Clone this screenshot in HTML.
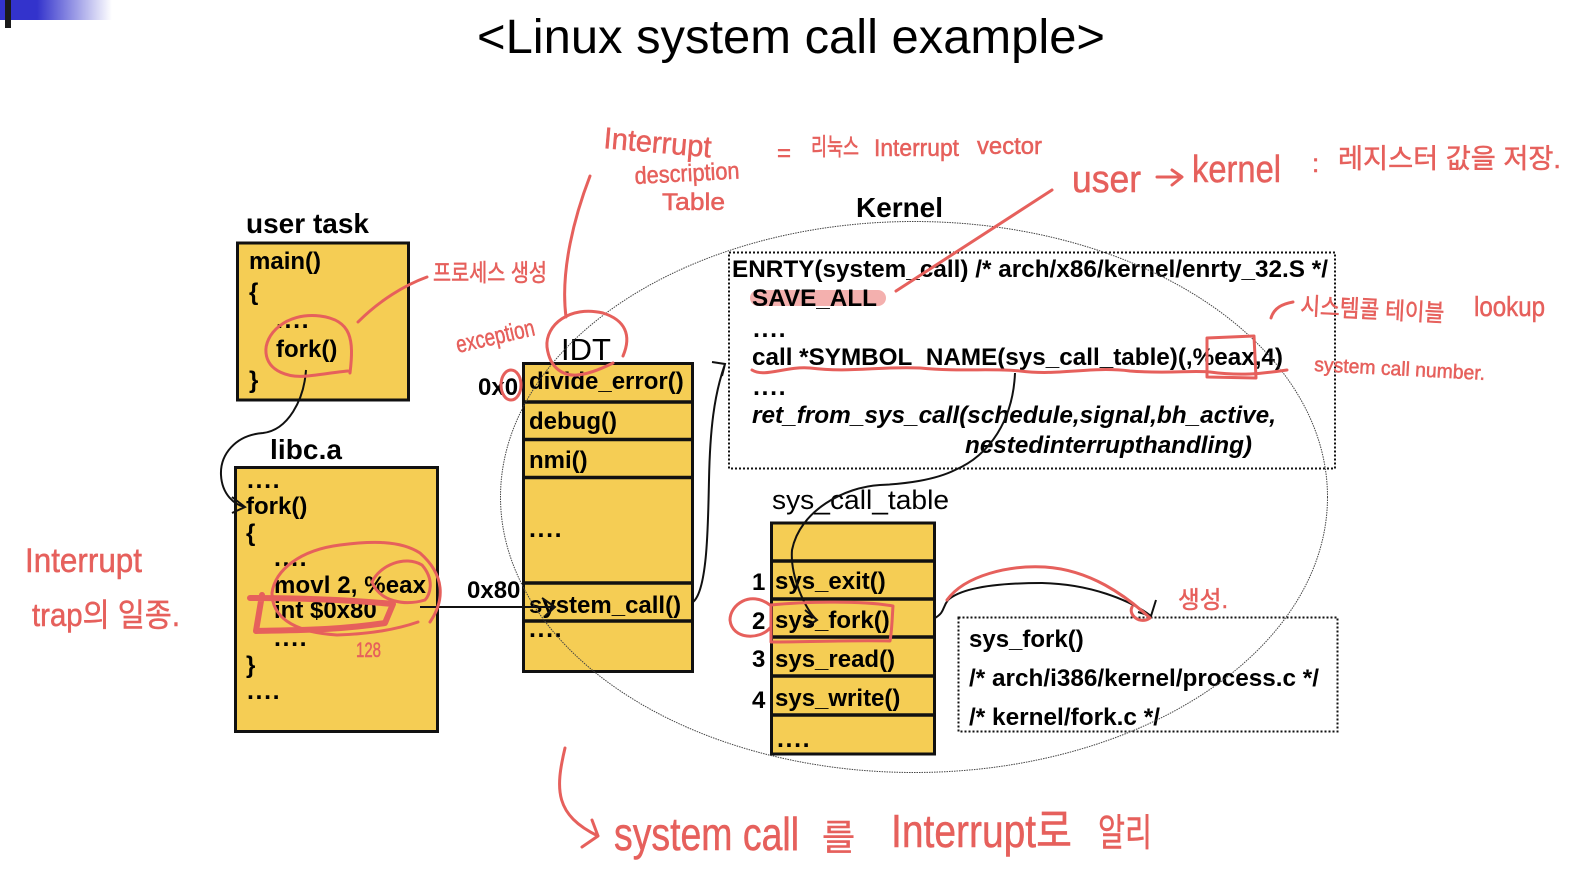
<!DOCTYPE html>
<html>
<head>
<meta charset="utf-8">
<style>
html,body{margin:0;padding:0;background:#fff;width:1587px;height:895px;overflow:hidden}
svg{display:block}
text{font-family:"Liberation Sans","Noto Sans CJK KR",sans-serif;fill:#000}
.b{font-weight:bold;font-size:24px}
.d{font-weight:bold;font-size:25px;letter-spacing:1.6px}
.h{font-weight:bold;font-size:28px}
.r{fill:#e6605c;font-size:24px;stroke:#e6605c;stroke-width:.5}
.box{fill:#f5cd54;stroke:#111;stroke-width:3}
.ln{stroke:#111;stroke-width:3.5}
.dot{fill:none;stroke:#111;stroke-width:2;stroke-dasharray:2 2}
.c{fill:none;stroke:#111;stroke-width:2}
.p{fill:none;stroke:#e6605c;stroke-width:3;stroke-linecap:round;stroke-linejoin:round}
</style>
</head>
<body>
<svg width="1587" height="895" viewBox="0 0 1587 895" xmlns="http://www.w3.org/2000/svg">
<defs><linearGradient id="g" x1="0" x2="1" y1="0" y2="0"><stop offset="0" stop-color="#3333cc"/><stop offset=".33" stop-color="#3333cc"/><stop offset="1" stop-color="#fff"/></linearGradient></defs>
<rect width="1587" height="895" fill="#fff"/>
<rect x="0" y="0" width="112" height="20" fill="url(#g)"/>
<rect x="5" y="0" width="6" height="28" fill="#1a1a1a"/>
<text x="477" y="53" font-size="48" textLength="628" lengthAdjust="spacingAndGlyphs">&lt;Linux system call example&gt;</text>

<text class="h" x="246" y="233" textLength="123">user task</text>
<rect class="box" x="237.500" y="243" width="171" height="157"/>
<text class="b" x="249" y="269">main()</text>
<text class="b" x="249" y="300">{</text>
<text class="d" x="276" y="328">....</text>
<text class="b" x="276" y="357">fork()</text>
<text class="b" x="249" y="388">}</text>

<text class="h" x="270" y="459" textLength="72">libc.a</text>
<rect class="box" x="235.500" y="467.500" width="202" height="264"/>
<text class="d" x="247" y="488">....</text>
<text class="b" x="246" y="514">fork()</text>
<text class="b" x="246" y="541">{</text>
<text class="d" x="274" y="566">....</text>
<text class="b" x="274" y="593" textLength="152">movl 2, %eax</text>
<text class="b" x="274" y="618">int $0x80</text>
<text class="d" x="274" y="646">....</text>
<text class="b" x="246" y="673">}</text>
<text class="d" x="247" y="699">....</text>

<text x="561" y="360" font-size="31">IDT</text>
<text class="b" x="478" y="395">0x0</text>
<rect class="box" x="523.500" y="363.500" width="169" height="308"/>
<path class="ln" d="M524 402H693M524 439.500H693M524 477.500H693M524 583H693M524 621H693"/>
<text class="b" x="529" y="389">divide_error()</text>
<text class="b" x="529" y="429">debug()</text>
<text class="b" x="529" y="468">nmi()</text>
<text class="d" x="529" y="537">....</text>
<text class="b" x="467" y="598">0x80</text>
<text class="b" x="529" y="613">system_call()</text>
<text class="d" x="529" y="637">....</text>

<text class="h" x="856" y="217" textLength="87">Kernel</text>
<rect class="dot" x="729" y="252.500" width="606" height="216"/>
<rect x="750" y="290" width="136" height="16" rx="8" fill="#f4b0ae"/>
<text class="b" x="732" y="277" textLength="596" lengthAdjust="spacingAndGlyphs">ENRTY(system_call) /* arch/x86/kernel/enrty_32.S */</text>
<text class="b" x="752" y="306" textLength="125" lengthAdjust="spacingAndGlyphs">SAVE_ALL</text>
<text class="d" x="753" y="337">....</text>
<text class="b" x="752" y="365" textLength="531" lengthAdjust="spacingAndGlyphs">call *SYMBOL_NAME(sys_call_table)(,%eax,4)</text>
<text class="d" x="753" y="395">....</text>
<text class="b" x="752" y="423" font-style="italic" textLength="524" lengthAdjust="spacingAndGlyphs">ret_from_sys_call(schedule,signal,bh_active,</text>
<text class="b" x="965" y="453" font-style="italic" textLength="287" lengthAdjust="spacingAndGlyphs">nestedinterrupthandling)</text>

<text x="772" y="509" font-size="27" textLength="177" lengthAdjust="spacingAndGlyphs">sys_call_table</text>
<rect class="box" x="771.500" y="523" width="163" height="231"/>
<path class="ln" d="M772 561H935M772 599H935M772 637H935M772 676H935M772 715H935"/>
<text class="b" x="752" y="590">1</text>
<text class="b" x="752" y="629">2</text>
<text class="b" x="752" y="667">3</text>
<text class="b" x="752" y="708">4</text>
<text class="b" x="775" y="589">sys_exit()</text>
<text class="b" x="775" y="628">sys_fork()</text>
<text class="b" x="775" y="667">sys_read()</text>
<text class="b" x="775" y="706">sys_write()</text>
<text class="d" x="777" y="747">....</text>

<rect class="dot" x="958.500" y="617.500" width="379" height="114"/>
<text class="b" x="969" y="647">sys_fork()</text>
<text class="b" x="969" y="686" textLength="350" lengthAdjust="spacingAndGlyphs">/* arch/i386/kernel/process.c */</text>
<text class="b" x="969" y="725" textLength="191" lengthAdjust="spacingAndGlyphs">/* kernel/fork.c */</text>

<ellipse cx="914" cy="497" rx="413.500" ry="275.500" fill="none" stroke="#444" stroke-width="1" stroke-dasharray="1.500 1"/>

<!-- black connectors -->
<path class="c" d="M306 370C304 400 288 430 263 433C235 435 220 455 221 475C222 495 235 505 245 507M232 497L245 507L232 513"/>
<path class="c" d="M420 607H555M542 598L555 607L545 616"/>
<path class="c" d="M693 602C708 590 708 520 709 480C710 430 714 395 725 364M712 362L725 364L722 376"/>
<path class="c" d="M1015 373C1013 420 990 455 955 470C935 480 905 484 880 485C845 487 800 510 792 550C790 575 805 610 817 620M805 610L817 620L806 627"/>
<path class="c" d="M935 618C945 612 942 608 948 600C965 585 1010 583 1042 583C1090 584 1130 600 1151 616M1138 612L1151 616L1156 600"/>

<!-- red annotations -->
<path class="p" d="M350 373C354 340 352 320 320 316C285 312 264 335 266 353C268 372 290 378 307 376C320 375 335 372 348 371"/>
<path class="p" d="M358 322C380 300 405 285 427 277"/>
<text class="r" x="433" y="281" textLength="114" lengthAdjust="spacingAndGlyphs">프로세스 생성</text>
<path class="p" d="M590 176C575 215 560 270 566 317"/>
<path class="p" d="M623 356C632 335 625 320 603 313C570 305 545 325 547 347C550 370 565 376 577 375C590 374 603 368 613 363"/>
<ellipse class="p" cx="511" cy="385" rx="10" ry="15"/>
<text class="r" x="458" y="353" transform="rotate(-13 458 353)" textLength="80" lengthAdjust="spacingAndGlyphs">exception</text>

<text class="r" x="603" y="148" transform="rotate(5 603 148)" style="font-size:30px" textLength="108" lengthAdjust="spacingAndGlyphs">Interrupt</text>
<text class="r" x="635" y="184" textLength="105" lengthAdjust="spacingAndGlyphs" transform="rotate(-3 635 184)">description</text>
<text class="r" x="662" y="210" textLength="63" lengthAdjust="spacingAndGlyphs">Table</text>
<text class="r" x="777" y="161">=</text>
<text class="r" x="811" y="155" textLength="48" lengthAdjust="spacingAndGlyphs">리눅스</text>
<text class="r" x="874" y="156" textLength="85" lengthAdjust="spacingAndGlyphs">Interrupt</text>
<text class="r" x="977" y="154" textLength="65" lengthAdjust="spacingAndGlyphs">vector</text>

<path class="p" d="M1052 190L896 291"/>
<text class="r" x="1072" y="192" style="font-size:38px" textLength="69" lengthAdjust="spacingAndGlyphs">user</text>
<path class="p" d="M1157 177H1181M1172 170L1182 177L1172 185"/>
<text class="r" x="1192" y="182" style="font-size:38px" textLength="89" lengthAdjust="spacingAndGlyphs">kernel</text>
<text class="r" x="1312" y="172" style="font-size:26px">:</text>
<text class="r" x="1338" y="168" style="font-size:27px" textLength="223" lengthAdjust="spacingAndGlyphs">레지스터 값을 저장.</text>

<path class="p" d="M752 370C765 378 785 366 810 368C850 373 880 366 920 368C960 372 990 368 1020 371C1060 376 1090 366 1130 371C1170 374 1190 370 1210 372C1240 376 1260 374 1287 370"/>
<path class="p" d="M1207 338L1254 336L1256 378L1207 377Z"/>
<path class="p" d="M1271 318C1274 308 1282 304 1293 302"/>
<text class="r" x="1300" y="314" textLength="144" lengthAdjust="spacingAndGlyphs" transform="rotate(3 1300 314)">시스템콜 테이블</text>
<text class="r" x="1474" y="316" style="font-size:28px" textLength="71" lengthAdjust="spacingAndGlyphs">lookup</text>
<text class="r" x="1314" y="371" style="font-size:20px" textLength="171" lengthAdjust="spacingAndGlyphs" transform="rotate(3 1314 371)">system call number.</text>

<path class="p" style="stroke-width:6" d="M250 598C300 598 350 600 393 604L385 623C340 630 300 630 256 631L262 595"/>
<path class="p" d="M430 622C445 600 445 575 420 553C400 540 370 541 340 545C300 550 275 570 272 593C272 615 290 632 337 635C370 634 395 630 418 622"/>
<path class="p" d="M372 582C380 565 405 555 422 565C435 580 430 595 425 600C405 606 380 602 372 582Z"/>
<text class="r" x="356" y="657" style="font-size:21px" textLength="25" lengthAdjust="spacingAndGlyphs">128</text>
<text class="r" x="25" y="572" style="font-size:34px" textLength="117" lengthAdjust="spacingAndGlyphs">Interrupt</text>
<text class="r" x="32" y="626" style="font-size:32px" textLength="148" lengthAdjust="spacingAndGlyphs">trap의 일종.</text>

<path class="p" d="M771 605C800 602 860 600 893 606C892 620 892 630 890 641C850 640 810 642 771 642Z"/>
<path class="p" d="M770 605C750 590 730 605 730 620C732 640 760 640 770 628"/>
<path class="p" d="M947 600C965 575 1010 565 1045 567C1090 570 1125 595 1150 618C1140 625 1128 615 1132 607"/>
<text class="r" x="1178" y="608" style="font-size:24px" textLength="50" lengthAdjust="spacingAndGlyphs">생성.</text>

<path class="p" d="M565 748C555 790 555 815 598 836M592 820L598 836L582 847"/>
<text class="r" x="614" y="850" style="font-size:46px" textLength="185" lengthAdjust="spacingAndGlyphs">system call</text>
<text class="r" x="822" y="850" style="font-size:36px">를</text>
<text class="r" x="891" y="847" style="font-size:46px" textLength="181" lengthAdjust="spacingAndGlyphs">Interrupt로</text>
<text class="r" x="1098" y="846" style="font-size:38px" textLength="54" lengthAdjust="spacingAndGlyphs">알리</text>
</svg>
</body>
</html>
